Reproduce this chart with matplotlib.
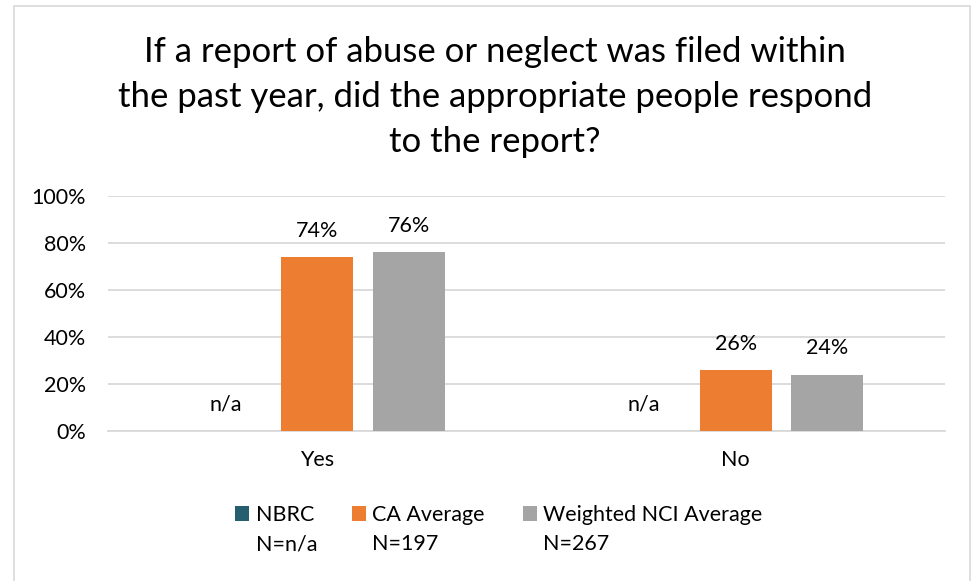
import numpy as np
import matplotlib
matplotlib.use('Agg')
import matplotlib.pyplot as plt
from matplotlib.patches import Patch, Rectangle

plt.rcParams['font.family'] = ['Lato', 'DejaVu Sans']

# data
categories = ['Yes', 'No']
series_names = ['NBRC', 'CA Average', 'Weighted NCI Average']
series_n = ['N=n/a', 'N=197', 'N=267']
nbrc = [np.nan, np.nan]          # n/a
ca_avg = [0.74, 0.26]
nci_avg = [0.76, 0.24]
colors = ['#255E6E', '#ED7D31', '#A5A5A5']
title = ('If a report of abuse or neglect was filed within\n'
         'the past year, did the appropriate people respond\n'
         'to the report?')

fig = plt.figure(figsize=(9.8, 5.81), dpi=100)
ax = fig.add_axes([108/980, 1-431/581, (945-108)/980, (431-196)/581])

# chart border
fig.patches.append(Rectangle((14/980, -0.05), (970-14)/980, 1.05-6/581,
                             transform=fig.transFigure, fill=False,
                             edgecolor='#d9d9d9', linewidth=1.2))

x = np.arange(len(categories))
width = 0.172
offsets = [-0.219, 0.0, 0.219]
grid_c = '#d9d9d9'
fs = 15.5

for vals, off, c in zip([nbrc, ca_avg, nci_avg], offsets, colors):
    v = np.nan_to_num(np.array(vals, dtype=float))
    ax.bar(x + off, v, width, color=c, zorder=3)
    for xi, raw, vi in zip(x, vals, v):
        lbl = 'n/a' if np.isnan(raw) else f'{raw*100:.0f}%'
        ax.annotate(lbl, (xi + off, vi), xytext=(0, 19), textcoords='offset points',
                    ha='center', va='center', fontsize=fs, color='#000000')

ax.set_xlim(-0.5, len(categories) - 0.5)
ax.set_ylim(0, 1)
ax.set_yticks(np.arange(0, 1.01, 0.2))
ax.set_yticklabels([f'{t*100:.0f}%' for t in np.arange(0, 1.01, 0.2)])
ax.set_xticks(x)
ax.set_xticklabels(categories)
ax.tick_params(axis='both', length=0, labelsize=fs, colors='#000000')
ax.tick_params(axis='y', pad=16)
ax.tick_params(axis='x', pad=14)
ax.grid(axis='y', color=grid_c, linewidth=1.3, zorder=0)
for s in ['top', 'right', 'left']:
    ax.spines[s].set_visible(False)
ax.spines['bottom'].set_color(grid_c)
ax.spines['bottom'].set_linewidth(1.3)

fig.text(0.505, 1-97/581, title, ha='center', va='center', fontsize=25,
         linespacing=1.5, color='#000000')

handles = [Patch(facecolor=c) for c in colors]
leg = fig.legend(handles, series_names, loc='center', ncol=3,
                 bbox_to_anchor=(0.509, 1-515/581), frameon=False,
                 fontsize=fs, handlelength=0.65, handleheight=0.65,
                 handletextpad=0.3, columnspacing=1.75)

# second line of each legend entry under its label
fig.canvas.draw()
inv = fig.transFigure.inverted()
for t, n in zip(leg.get_texts(), series_n):
    bb = t.get_window_extent().transformed(inv)
    fig.text(bb.x0, bb.y0 - 0.05, n, ha='left', va='bottom', fontsize=fs)

fig.savefig('out.png', dpi=100)
